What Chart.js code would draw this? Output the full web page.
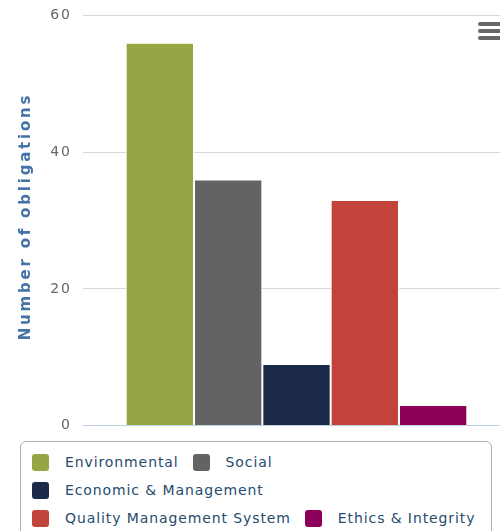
<!DOCTYPE html>
<html>
<head>
<meta charset="utf-8">
<script src="https://cdn.jsdelivr.net/npm/chart.js@4"></script>
<style>
  body { margin: 0; width: 500px; height: 531px; overflow: hidden; background: #fff; font-family: "DejaVu Sans", sans-serif; }
  #wrap { position: absolute; left: 0; top: -4px; width: 510px; height: 449px; }
  #menu { position: absolute; left: 478px; top: 22px; width: 24px; }
  #menu div { height: 4px; background: #666; border-radius: 2px; margin-bottom: 3px; }
  #legend { position: absolute; left: 20px; top: 441px; width: 472px; height: 120px; border: 1px solid #b0b0b0; border-radius: 6px; box-sizing: border-box; padding: 6px 0 0 11px; background: #fff; }
  .row { height: 28px; display: flex; align-items: center; white-space: nowrap; }
  .item { display: flex; align-items: center; flex-shrink: 0; margin-right: 14px; font-size: 14px; letter-spacing: 0.9px; color: #274b6d; }
  .box { width: 17px; height: 17px; border-radius: 3px; margin-right: 16px; }
</style>
</head>
<body>
<div id="wrap"><canvas id="chart"></canvas></div>
<div id="menu"><div></div><div></div><div></div></div>
<div id="legend"></div>
<script>
// DATA
let categories = ["Environmental", "Social", "Economic & Management", "Quality Management System", "Ethics & Integrity"];
let values = [56, 36, 9, 33, 3];
let colors = ["#95a644", "#636363", "#1b2a47", "#c1433b", "#8d005a"];
let yTicks = [0, 20, 40, 60];
let yTitle = "Number of obligations";

// legend rows, like the reference wrap
let legendRows = [[0, 1], [2], [3, 4]];

let datasets = categories.map((name, i) => ({
    label: name,
    data: [values[i]],
    backgroundColor: colors[i],
    borderColor: "#ffffff",
    borderWidth: 1,
    barPercentage: 1,
    categoryPercentage: 0.8
}));

// spaced-out text like the original
let spacing = {
    id: "spacing",
    beforeDraw: chart => { chart.ctx.letterSpacing = "2px"; },
    afterDraw: chart => {
        let ctx = chart.ctx;
        let area = chart.chartArea;
        ctx.save();
        ctx.letterSpacing = "2.8px";
        ctx.translate(26, (area.top + area.bottom) / 2 - 4);
        ctx.rotate(-Math.PI / 2);
        ctx.font = "bold 15px 'DejaVu Sans'";
        ctx.fillStyle = "#4572a7";
        ctx.textAlign = "center";
        ctx.textBaseline = "middle";
        ctx.fillText(yTitle, 0, 0);
        ctx.restore();
    }
};

new Chart(document.getElementById("chart"), {
    type: "bar",
    data: { labels: [""], datasets },
    plugins: [spacing],
    options: {
        responsive: true,
        maintainAspectRatio: false,
        animation: false,
        layout: { padding: { top: 10, bottom: 8, left: 0, right: 0 } },
        plugins: { legend: { display: false }, tooltip: { enabled: false } },
        scales: {
            x: { display: false },
            y: {
                min: yTicks[0],
                max: yTicks[yTicks.length - 1],
                afterFit: s => { s.width = 83; },
                afterBuildTicks: s => { s.ticks = yTicks.map(v => ({ value: v })); },
                border: { display: false },
                grid: {
                    drawTicks: false,
                    color: c => c.tick.value === 0 ? "#c0d0e0" : "#d8d8d8"
                },
                ticks: {
                    padding: 11,
                    color: "#666666",
                    font: { family: "DejaVu Sans", size: 14 }
                }
            }
        }
    }
});

// LEGEND
let legend = document.getElementById("legend");
legendRows.forEach(r => {
    let row = document.createElement("div");
    row.className = "row";
    r.forEach(i => {
        let item = document.createElement("div");
        item.className = "item";
        item.innerHTML = '<span class="box" style="background:' + colors[i] + '"></span>';
        item.appendChild(document.createTextNode(categories[i]));
        row.appendChild(item);
    });
    legend.appendChild(row);
});
</script>
</body>
</html>
